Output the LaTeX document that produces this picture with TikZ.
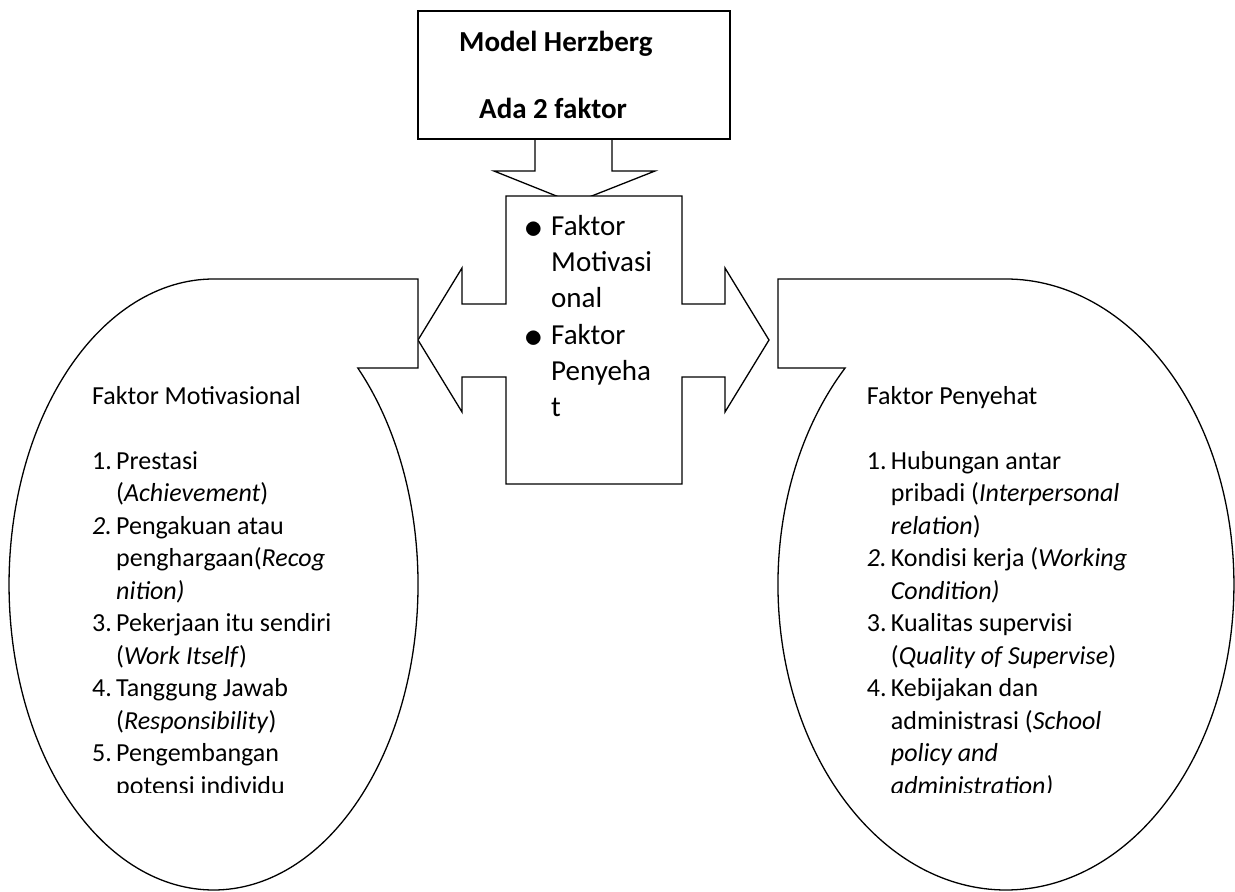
\documentclass[tikz,border=0pt]{standalone}
\usepackage{fontspec}
\setmainfont{Carlito}
\usepackage{graphicx}
\usepackage{tikz}

\newcommand{\numitem}[2]{\makebox[24pt][l]{#1}#2}
\newcommand{\wrapline}[1]{\hspace*{24pt}#1}
\newcommand{\bigdot}{\raisebox{-3.6pt}{\scalebox{1.5}{$\bullet$}}}
\newcommand{\bulitem}[1]{\makebox[29.2pt][l]{\hspace*{2pt}\bigdot}#1}
\newcommand{\bulwrap}[1]{\hspace*{29.2pt}#1}

\tikzset{
  outline/.style={draw,line width=1.3pt,fill=white,line join=miter},
  listtext/.style={anchor=north west,inner sep=0pt,align=left,
    font=\fontsize{26}{32.5}\selectfont},
  bigtext/.style={anchor=north west,inner sep=0pt,align=left,
    font=\fontsize{29}{36.3}\selectfont},
  titletext/.style={anchor=base west,inner sep=0pt,
    font=\bfseries\fontsize{29}{35}\selectfont}
}

\begin{document}
\begin{tikzpicture}[x=1pt,y=1pt]
  \useasboundingbox (0,0) rectangle (1235,-892);

  % arrow from the title box down
  \draw[outline] (535,-139) -- (535,-171) -- (494,-171) -- (574,-203)
    -- (655,-171) -- (612,-171) -- (612,-139) -- cycle;

  % middle box with arrows to both sides
  \draw[outline] (506,-196) -- (682,-196) -- (682,-304) -- (725,-304)
    -- (725,-268) -- (769,-340) -- (725,-412) -- (725,-377) -- (682,-377)
    -- (682,-484) -- (506,-484) -- (506,-377) -- (462,-377) -- (462,-412)
    -- (418,-340) -- (462,-268) -- (462,-304) -- (506,-304) -- cycle;

  % title box
  \draw[outline] (418,-11) rectangle (730,-139);
  \node[titletext] (title) at (459,-51) {Model Herzberg};
  \node[titletext] (count) at (479,-118) {Ada 2 faktor};

  % left and right callouts
  \draw[outline] (213.5,-279) -- (418,-279) -- (418,-368) -- (357.8,-368)
    arc[start angle=45.13,end angle=-270,x radius=204.5,y radius=305.5] -- cycle;
  \draw[outline] (1006,-279) -- (778,-279) -- (778,-368) -- (845.1,-368)
    arc[start angle=134.87,end angle=450,x radius=228,y radius=305.5] -- cycle;

  \node[bigtext] (twofactors) at (521.8,-209.6) {\strut\bulitem{Faktor}\\
    \bulwrap{Motivasi}\\ \bulwrap{onal}\\ \bulitem{Faktor}\\
    \bulwrap{Penyeha}\\ \bulwrap{t}};

  \begin{scope}
    \clip (20,-380) rectangle (420,-792);
    \node[listtext] (motlist) at (92,-381.25) {\strut Faktor Motivasional\\[32.5pt]
      \numitem{1.}{Prestasi}\\
      \wrapline{(\textit{Achievement})}\\
      \numitem{\textit{2.}}{Pengakuan atau}\\
      \wrapline{penghargaan(\textit{Recog}}\\
      \wrapline{\textit{nition)}}\\
      \numitem{3.}{Pekerjaan itu sendiri}\\
      \wrapline{(\textit{Work Itself})}\\
      \numitem{4.}{Tanggung Jawab}\\
      \wrapline{(\textit{Responsibility})}\\
      \numitem{5.}{Pengembangan}\\
      \wrapline{potensi individu}};
  \end{scope}

  \begin{scope}
    \clip (790,-380) rectangle (1230,-792);
    \node[listtext] (heallist) at (866.7,-381.25) {\strut Faktor Penyehat\\[32.5pt]
      \numitem{1.}{Hubungan antar}\\
      \wrapline{pribadi (\textit{Interpersonal}}\\
      \wrapline{\textit{relation})}\\
      \numitem{\textit{2.}}{Kondisi kerja (\textit{Working}}\\
      \wrapline{\textit{Condition)}}\\
      \numitem{3.}{Kualitas supervisi}\\
      \wrapline{(\textit{Quality of Supervise})}\\
      \numitem{4.}{Kebijakan dan}\\
      \wrapline{administrasi (\textit{School}}\\
      \wrapline{\textit{policy and}}\\
      \wrapline{\textit{administration)}}};
  \end{scope}
\end{tikzpicture}
\end{document}
